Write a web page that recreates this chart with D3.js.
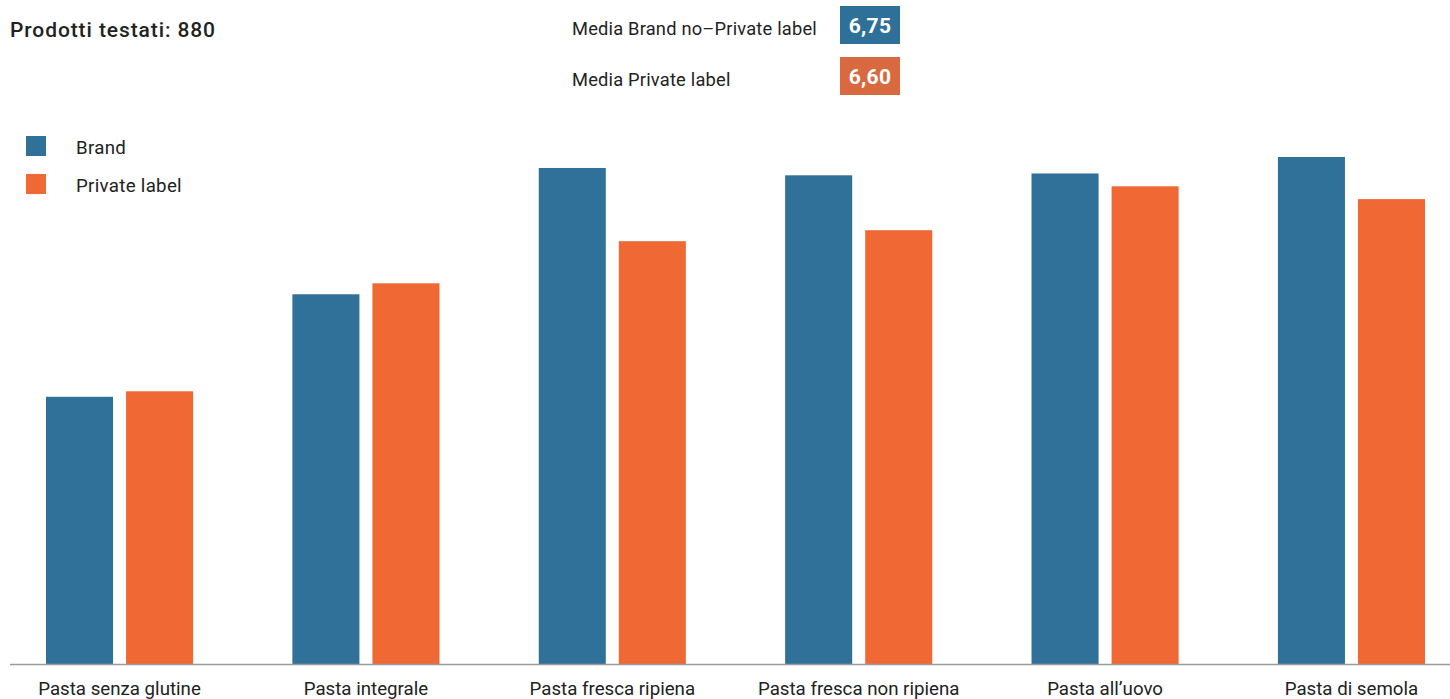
<!DOCTYPE html>
<html>
<head>
<meta charset="utf-8">
<script src="https://cdn.jsdelivr.net/npm/d3@7"></script>
<style>
  html, body { margin: 0; padding: 0; background: #fff; }
  svg { display: block; font-family: Roboto, "Noto Sans", sans-serif; }
</style>
</head>
<body>
<svg id="chart" width="1450" height="699"></svg>
<script>
const categories = ["Pasta senza glutine", "Pasta integrale", "Pasta fresca ripiena", "Pasta fresca non ripiena", "Pasta all\u2019uovo", "Pasta di semola"];
const seriesNames = ["Brand", "Private label"];
const brandValues = [5.83, 6.39, 7.08, 7.04, 7.05, 7.14];
const privateValues = [5.86, 6.45, 6.68, 6.74, 6.98, 6.91];
const averageLabels = ["Media Brand no\u2013Private label", "Media Private label"];
const averageValues = ["6,75", "6,60"];
const title = "Prodotti testati: 880";

const colors = ["#307199", "#f06934"];
const boxColors = ["#2f7099", "#d96a40"];

const svg = d3.select("#chart");
const baseline = 664;

const x0 = d3.scaleBand().domain(categories).range([46, 1425]).paddingInner(0.403).paddingOuter(0);
const x1 = d3.scaleBand().domain(seriesNames).range([0, x0.bandwidth()]).paddingInner(0.1625).paddingOuter(0);
const y = d3.scaleLinear().domain([4.37, 7.14]).range([baseline, 157]);
const color = d3.scaleOrdinal().domain(seriesNames).range(colors);

const rows = categories.map((c, i) => ({ cat: c, vals: [
  { s: seriesNames[0], v: brandValues[i] },
  { s: seriesNames[1], v: privateValues[i] }
]}));

const groups = svg.append("g").selectAll("g").data(rows).join("g")
  .attr("transform", d => `translate(${x0(d.cat)},0)`);
groups.selectAll("rect").data(d => d.vals).join("rect")
  .attr("x", d => x1(d.s))
  .attr("width", x1.bandwidth())
  .attr("y", d => y(d.v))
  .attr("height", d => baseline - y(d.v))
  .attr("fill", d => color(d.s));

// baseline axis
svg.append("line")
  .attr("x1", 10).attr("x2", 1450)
  .attr("y1", baseline + 0.5).attr("y2", baseline + 0.5)
  .attr("stroke", "#9a9a9a").attr("stroke-width", 1.3);

// category labels
const xAxis = d3.axisBottom(x0).tickSize(0).tickPadding(0);
const ax = svg.append("g").attr("transform", `translate(0,${baseline})`).call(xAxis);
ax.select(".domain").remove();
ax.selectAll("text")
  .attr("dy", null)
  .attr("y", 31)
  .attr("font-size", 18.7)
  .attr("font-family", "Roboto, sans-serif")
  .attr("fill", "#222");

// title
svg.append("text").attr("x", 10).attr("y", 37)
  .attr("font-size", 21).attr("font-weight", 500).attr("letter-spacing", 0.9)
  .attr("fill", "#222").text(title);

// averages
averageLabels.forEach((lab, i) => {
  const yy = 6 + i * 51;
  svg.append("text").attr("x", 572).attr("y", yy + 29)
    .attr("font-size", 18.3).attr("letter-spacing", 0.2).attr("fill", "#222").text(lab);
  svg.append("rect").attr("x", 840).attr("y", yy).attr("width", 60).attr("height", 38)
    .attr("fill", boxColors[i]);
  svg.append("text").attr("x", 870).attr("y", yy + 27)
    .attr("text-anchor", "middle").attr("font-size", 21).attr("font-weight", 700)
    .attr("letter-spacing", 0.3).attr("fill", "#fff").text(averageValues[i]);
});

// legend
seriesNames.forEach((s, i) => {
  const yy = 136 + i * 38;
  svg.append("rect").attr("x", 26).attr("y", yy).attr("width", 20).attr("height", 20)
    .attr("fill", color(s));
  svg.append("text").attr("x", 76).attr("y", yy + 18)
    .attr("font-size", 18.7).attr("letter-spacing", 0.3).attr("fill", "#222").text(s);
});
</script>
</body>
</html>
